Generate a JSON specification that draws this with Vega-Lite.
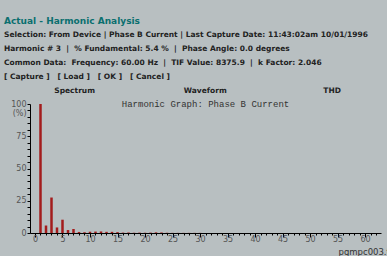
{
  "$schema": "https://vega.github.io/schema/vega-lite/v6.json",
  "autosize": {"type": "none"},
  "width": 351,
  "height": 129,
  "padding": {"left": 30, "top": 104, "right": 6, "bottom": 23},
  "background": "#b8bfc1",
  "config": {"view": {"stroke": null}, "font": "DejaVu Sans"},
  "title": {
    "text": "Actual - Harmonic Analysis",
    "subtitle": [
      "Selection: From Device | Phase B Current | Last Capture Date: 11:43:02am 10/01/1996",
      "Harmonic # 3\u00a0\u00a0|\u00a0\u00a0% Fundamental: 5.4 %\u00a0\u00a0|\u00a0\u00a0Phase Angle: 0.0 degrees",
      "Common Data:\u00a0\u00a0Frequency: 60.00 Hz\u00a0\u00a0|\u00a0\u00a0TIF Value: 8375.9\u00a0\u00a0|\u00a0\u00a0k Factor: 2.046",
      "[ Capture ]\u00a0\u00a0\u00a0[ Load ]\u00a0\u00a0\u00a0[ OK ]\u00a0\u00a0\u00a0[ Cancel ]",
      "\u2800\u00a0\u00a0\u00a0\u00a0\u00a0\u00a0\u00a0\u00a0\u00a0\u00a0\u00a0\u00a0\u00a0\u00a0\u00a0\u00a0\u00a0Spectrum\u00a0\u00a0\u00a0\u00a0\u00a0\u00a0\u00a0\u00a0\u00a0\u00a0\u00a0\u00a0\u00a0\u00a0\u00a0\u00a0\u00a0\u00a0\u00a0\u00a0\u00a0\u00a0\u00a0\u00a0\u00a0\u00a0\u00a0\u00a0\u00a0\u00a0\u00a0\u00a0\u00a0\u00a0Waveform\u00a0\u00a0\u00a0\u00a0\u00a0\u00a0\u00a0\u00a0\u00a0\u00a0\u00a0\u00a0\u00a0\u00a0\u00a0\u00a0\u00a0\u00a0\u00a0\u00a0\u00a0\u00a0\u00a0\u00a0\u00a0\u00a0\u00a0\u00a0\u00a0\u00a0\u00a0\u00a0\u00a0\u00a0\u00a0\u00a0\u00a0THD"
    ],
    "anchor": "start",
    "frame": "group",
    "dx": -26,
    "offset": 6,
    "fontSize": 9,
    "fontWeight": "bold",
    "color": "#0b6f6f",
    "subtitleFontSize": 7.5,
    "subtitleColor": "#222222",
    "subtitleFontWeight": "bold",
    "subtitleLineHeight": 14,
    "subtitlePadding": 5
  },
  "layer": [
    {
      "data": {
        "values": [
          {"harmonic": 1, "percent": 100},
          {"harmonic": 2, "percent": 5.8},
          {"harmonic": 3, "percent": 27.5},
          {"harmonic": 4, "percent": 4.3},
          {"harmonic": 5, "percent": 10.3},
          {"harmonic": 6, "percent": 2.3},
          {"harmonic": 7, "percent": 3.1},
          {"harmonic": 8, "percent": 0.8},
          {"harmonic": 9, "percent": 0.6},
          {"harmonic": 10, "percent": 1.0},
          {"harmonic": 11, "percent": 1.1},
          {"harmonic": 12, "percent": 1.2},
          {"harmonic": 13, "percent": 0.9},
          {"harmonic": 14, "percent": 0.9},
          {"harmonic": 15, "percent": 0.7},
          {"harmonic": 16, "percent": 0.3},
          {"harmonic": 17, "percent": 0.4},
          {"harmonic": 18, "percent": 0.2},
          {"harmonic": 19, "percent": 0.3},
          {"harmonic": 20, "percent": 0.2},
          {"harmonic": 21, "percent": 0.3},
          {"harmonic": 22, "percent": 0.5},
          {"harmonic": 23, "percent": 0.4},
          {"harmonic": 24, "percent": 0.2},
          {"harmonic": 25, "percent": 0.1},
          {"harmonic": 26, "percent": 0.1},
          {"harmonic": 27, "percent": 0.1},
          {"harmonic": 28, "percent": 0.1},
          {"harmonic": 29, "percent": 0.1},
          {"harmonic": 30, "percent": 0.1}
        ]
      },
      "mark": {"type": "bar", "color": "#a31c1c", "size": 2.5},
      "encoding": {
        "x": {
          "field": "harmonic",
          "type": "quantitative",
          "scale": {"domain": [0, 62], "nice": false, "zero": true},
          "axis": {
            "values": [0,1,2,3,4,5,6,7,8,9,10,11,12,13,14,15,16,17,18,19,20,21,22,23,24,25,26,27,28,29,30,31,32,33,34,35,36,37,38,39,40,41,42,43,44,45,46,47,48,49,50,51,52,53,54,55,56,57,58,59,60,61,62],
            "labelExpr": "datum.value % 5 === 0 ? datum.label : ''",
            "labelOverlap": false,
            "labelFlush": false,
            "grid": false,
            "domainColor": "#000000",
            "tickColor": "#000000",
            "tickSize": {"expr": "datum.value % 5 === 0 ? 4 : 2"},
            "labelFontSize": 8,
            "labelColor": "#555555",
            "labelPadding": -2,
            "title": "pgmpc003.tif",
            "titleX": 308,
            "titleY": 21,
            "titleAlign": "left",
            "titleAnchor": "start",
            "titleBaseline": "alphabetic",
            "titleFontSize": 8.5,
            "titleFontWeight": "normal",
            "titleColor": "#333333"
          }
        },
        "y": {
          "field": "percent",
          "type": "quantitative",
          "scale": {"domain": [0, 100], "nice": false},
          "axis": {
            "values": [0,5,10,15,20,25,30,35,40,45,50,55,60,65,70,75,80,85,90,95,100],
            "labelExpr": "datum.value % 25 === 0 ? datum.label : (datum.value === 95 ? '(%)' : '')",
            "labelOverlap": false,
            "labelFlush": false,
            "grid": false,
            "title": null,
            "domainColor": "#000000",
            "tickColor": "#000000",
            "tickSize": 3,
            "labelFontSize": 8,
            "labelOffset": {"expr": "datum.value === 95 ? 3 : 0"},
            "labelColor": "#555555",
            "labelPadding": 1
          }
        }
      }
    },
    {
      "data": {"values": [{"label": "Harmonic Graph: Phase B Current"}]},
      "mark": {"type": "text", "font": "Liberation Mono", "fontSize": 9, "color": "#333333", "baseline": "middle"},
      "encoding": {
        "text": {"field": "label", "type": "nominal"},
        "y": {
          "datum": 100,
          "type": "quantitative",
          "axis": {
            "values": [0,5,10,15,20,25,30,35,40,45,50,55,60,65,70,75,80,85,90,95,100],
            "labelExpr": "datum.value % 25 === 0 ? datum.label : (datum.value === 95 ? '(%)' : '')",
            "labelOverlap": false,
            "labelFlush": false,
            "grid": false,
            "title": null,
            "domainColor": "#000000",
            "tickColor": "#000000",
            "tickSize": 3,
            "labelFontSize": 8,
            "labelOffset": {"expr": "datum.value === 95 ? 3 : 0"},
            "labelColor": "#555555",
            "labelPadding": 1
          }
        }
      }
    }
  ]
}
